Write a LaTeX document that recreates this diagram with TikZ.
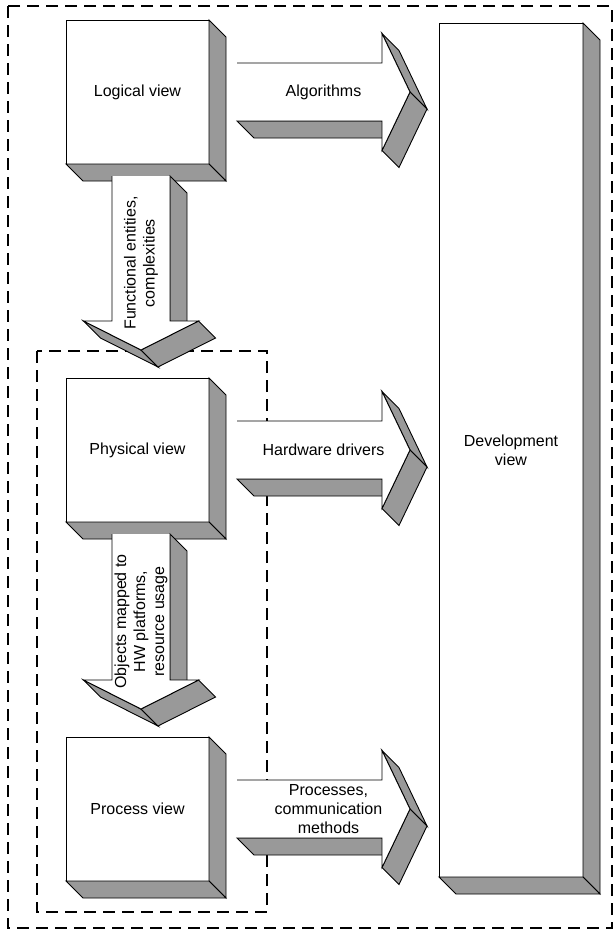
\documentclass[tikz,border=0pt]{standalone}
\usepackage{fontspec}
\setmainfont{Liberation Sans}
\usetikzlibrary{calc}
\definecolor{facetgray}{HTML}{999999}

\tikzset{
  viewbox/.style={draw=black, fill=white, line width=0.9pt, inner sep=0pt,
    outer sep=0pt, align=center, font=\fontsize{16}{19}\selectfont},
  facet/.style={draw=black, fill=facetgray, line width=0.9pt, line join=miter},
  arrowedge/.style={draw=black, line width=0.9pt, line join=miter},
  arrowlabel/.style={align=center, inner sep=0pt, font=\fontsize{16}{19}\selectfont},
  groupline/.style={draw=black, line width=1.1pt, dash pattern=on 12pt off 7pt},
}

% Extruded sides (right and bottom) of a view box
\newcommand\boxdepth[1]{%
  \draw[facet] (#1.north east) -- ++(17,17) -- ([shift={(17,17)}]#1.south east)
    -- (#1.south east) -- cycle;
  \draw[facet] (#1.south west) -- ++(17,17) -- ([shift={(17,17)}]#1.south east)
    -- (#1.south east) -- cycle;
}

% Extruded block arrow pointing right: source, target, name, label options, label
\newcommand\flowright[5]{%
  \path let \p1=(#1.east), \p2=(#2.west) in
    (\x1+28pt,\y1+29pt) coordinate (#3s1)
    (\x2-57pt,\y1+29pt) coordinate (#3b1)
    (\x2-57pt,\y1+58.5pt) coordinate (#3h1)
    (\x2-29pt,\y1) coordinate (#3t)
    (\x2-57pt,\y1-58.5pt) coordinate (#3h2)
    (\x2-57pt,\y1-29pt) coordinate (#3b2)
    (\x1+28pt,\y1-29pt) coordinate (#3s2);
  \draw[facet] (#3s2) -- (#3b2) -- ([shift={(17,17)}]#3b2) -- ([shift={(17,17)}]#3s2) -- cycle;
  \draw[facet] (#3h1) -- (#3t) -- ([shift={(17,17)}]#3t) -- ([shift={(17,17)}]#3h1) -- cycle;
  \draw[facet] (#3h2) -- (#3t) -- ([shift={(17,17)}]#3t) -- ([shift={(17,17)}]#3h2) -- cycle;
  \fill[white] (#3s1) -- (#3b1) -- (#3h1) -- (#3t) -- (#3h2) -- (#3b2) -- (#3s2) -- cycle;
  \draw[arrowedge] (#3s1) -- (#3b1) -- (#3h1) -- (#3t) -- (#3h2) -- (#3b2) -- (#3s2);
  \node[arrowlabel,#4] (#3label) at ($(#3s1)!0.5!(#3s2)!0.5!(#3t)$) {#5};
}

% Extruded block arrow pointing down: source, target, name, label
\newcommand\flowdown[4]{%
  \path let \p1=(#1.south), \p2=(#2.north) in
    (\x1+3.5pt-29pt,\y1-12pt) coordinate (#3s1)
    (\x1+3.5pt-29pt,\y2+57pt) coordinate (#3b1)
    (\x1+3.5pt-57.5pt,\y2+57pt) coordinate (#3h1)
    (\x1+3.5pt,\y2+28pt) coordinate (#3t)
    (\x1+3.5pt+57.5pt,\y2+57pt) coordinate (#3h2)
    (\x1+3.5pt+29pt,\y2+57pt) coordinate (#3b2)
    (\x1+3.5pt+29pt,\y1-12pt) coordinate (#3s2);
  \draw[facet] (#3s2) -- (#3b2) -- ([shift={(17,17)}]#3b2) -- ([shift={(17,17)}]#3s2) -- cycle;
  \draw[facet] (#3h1) -- (#3t) -- ([shift={(17,17)}]#3t) -- ([shift={(17,17)}]#3h1) -- cycle;
  \draw[facet] (#3h2) -- (#3t) -- ([shift={(17,17)}]#3t) -- ([shift={(17,17)}]#3h2) -- cycle;
  \fill[white] (#3s1) -- (#3b1) -- (#3h1) -- (#3t) -- (#3h2) -- (#3b2) -- (#3s2) -- cycle;
  \draw[arrowedge] (#3s1) -- (#3b1) -- (#3h1) -- (#3t) -- (#3h2) -- (#3b2) -- (#3s2);
  \node[arrowlabel,rotate=90] (#3label) at ($(#3s1)!0.5!(#3s2)!0.5!(#3t)$) {#4};
}

\begin{document}
\begin{tikzpicture}[x=1pt,y=-1pt]
  \useasboundingbox (0,0) rectangle (615,930);
  \fill[white] (0,0) rectangle (615,930);

  % grouping frames
  \draw[groupline] (8,6) rectangle (612,928);
  \draw[groupline] (37,351) rectangle (267,912);

  % views
  \node[viewbox, minimum width=143pt, minimum height=144pt] (logical) at (137.5,92) {Logical view};
  \boxdepth{logical}
  \node[viewbox, minimum width=143pt, minimum height=144pt] (physical) at (137.5,450) {Physical view};
  \boxdepth{physical}
  \node[viewbox, minimum width=143pt, minimum height=144pt] (process) at (137.5,809) {Process view};
  \boxdepth{process}
  \node[viewbox, minimum width=144pt, minimum height=854pt] (devel) at (511,450) {Development\\view};
  \boxdepth{devel}

  % flows between views
  \flowdown{logical}{physical}{fdown}{Functional entities,\\complexities}
  \flowdown{physical}{process}{odown}{Objects mapped to\\HW platforms,\\resource usage}
  \flowright{logical}{devel}{alg}{}{Algorithms}
  \flowright{physical}{devel}{hw}{}{Hardware drivers}
  \flowright{process}{devel}{proc}{xshift=5pt}{Processes,\\communication\\methods}
\end{tikzpicture}
\end{document}
